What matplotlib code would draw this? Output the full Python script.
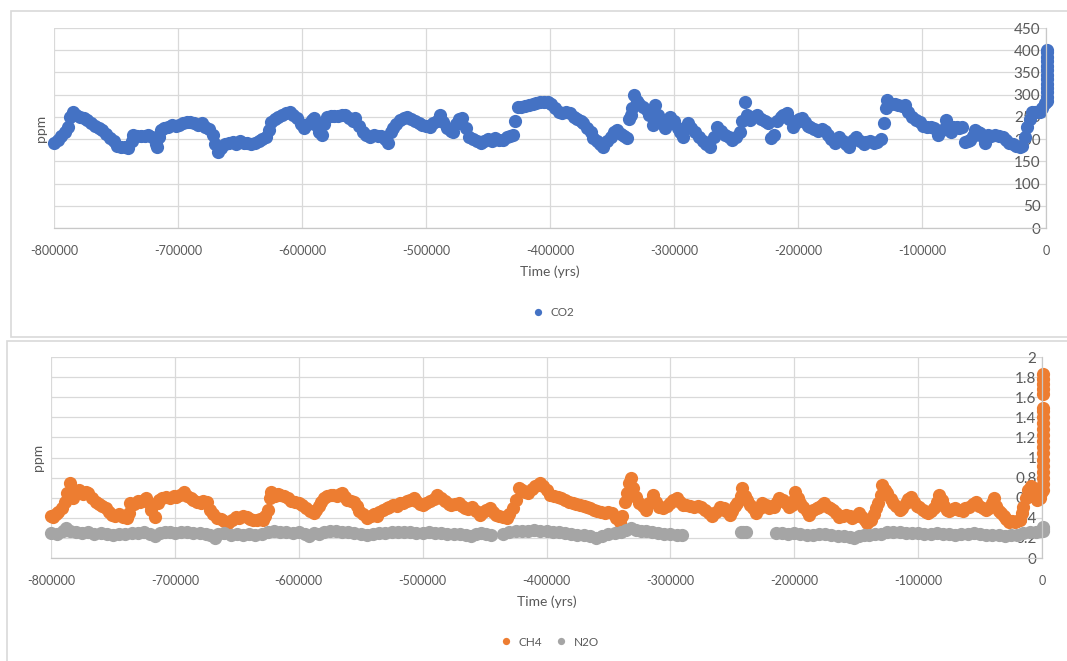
import matplotlib
matplotlib.use("Agg")
import matplotlib.pyplot as plt
from matplotlib.patches import Rectangle
import numpy as np

plt.rcParams['font.family'] = ['Lato', 'DejaVu Sans']

# CO2 (time in kyr, ppm)
co2_t = [-800, -797, -794, -791, -789, -787, -785, -782, -779, -776, -773, -770, -767, -764, -761, -758,
         -755, -752, -749, -746, -743, -740, -737, -736, -733, -730, -727, -724, -721, -718, -717, -715,
         -714, -711, -708, -705, -702, -699, -696, -693, -690, -687, -684, -681, -678, -675, -672, -670,
         -668, -665, -662, -659, -656, -653, -650, -647, -644, -641, -638, -635, -632, -629, -627, -625,
         -622, -619, -616, -613, -610, -607, -604, -601, -598, -595, -592, -590, -588, -586, -584, -582,
         -580, -577, -574, -571, -568, -565, -562, -559, -557, -554, -551, -548, -545, -542, -539, -536,
         -533, -531, -528, -527, -524, -521, -518, -515, -512, -509, -506, -503, -500, -497, -494, -491,
         -489, -486, -483, -480, -478, -476, -473, -471, -468, -465, -462, -459, -456, -453, -450, -447,
         -444, -441, -438, -435, -432, -430, -428, -426, -423, -420, -417, -414, -411, -408, -405, -402,
         -399, -396, -393, -390, -387, -384, -381, -378, -375, -373, -370, -367, -365, -362, -360, -357,
         -354, -351, -348, -346, -343, -340, -338, -336, -335, -334, -332, -330, -328, -325, -322, -320,
         -317, -315, -313, -310, -307, -305, -303, -300, -297, -295, -293, -291, -289, -286, -283, -280,
         -277, -274, -271, -268, -265, -262, -259, -256, -253, -250, -247, -245, -243, -241, -239, -236,
         -233, -230, -227, -224, -222, -219, -217, -214, -212, -209, -207, -204, -201, -199, -197, -194,
         -192, -190, -187, -184, -181, -178, -176, -173, -170, -167, -164, -161, -159, -156, -153, -150,
         -147, -145, -142, -139, -136, -133, -131, -129, -128, -125, -122, -119, -116, -114, -111, -108,
         -105, -102, -99, -96, -93, -90, -87, -84, -81, -79, -77, -75, -72, -70, -68, -65,
         -63, -61, -59, -57, -55, -53, -51, -49, -47, -44, -41, -38, -35, -32, -30, -27,
         -24, -21, -19, -17, -15, -13, -11, -9, -7, -5, -3, -1,
         1, 1, 1, 1, 1, 1, 1, 1, 1, 1, 1, 1, 1]
co2_v = [191, 198, 207, 215, 228, 250, 261, 255, 250, 247, 242, 236, 230, 225, 220, 212,
         203, 195, 185, 183, 182, 180, 195, 209, 207, 206, 208, 209, 205, 190, 183, 205,
         221, 224, 228, 232, 230, 232, 236, 238, 239, 236, 232, 236, 228, 222, 210, 190,
         172, 180, 190, 192, 194, 190, 195, 192, 191, 190, 192, 196, 200, 205, 220, 239,
         245, 250, 255, 258, 261, 255, 248, 235, 225, 235, 242, 247, 230, 215, 209, 235,
         250, 252, 253, 252, 254, 254, 248, 240, 247, 230, 215, 209, 205, 210, 206, 208,
         200, 191, 215, 225, 235, 242, 247, 250, 245, 240, 236, 232, 230, 228, 236, 240,
         254, 238, 225, 218, 216, 235, 245, 247, 225, 205, 200, 195, 191, 196, 200, 195,
         203, 198, 198, 205, 208, 209, 240, 272, 272, 275, 276, 278, 281, 283, 283, 284,
         280, 270, 262, 259, 262, 259, 250, 245, 240, 236, 225, 215, 203, 195, 190, 182,
         195, 205, 215, 221, 212, 208, 203, 245, 255, 270, 299, 285, 278, 272, 265, 255,
         232, 277, 255, 240, 225, 235, 250, 240, 225, 215, 205, 225, 236, 225, 215, 205,
         195, 188, 182, 205, 227, 218, 210, 205, 198, 205, 215, 240, 283, 255, 243, 250,
         254, 245, 240, 236, 203, 210, 240, 250, 255, 259, 245, 227, 238, 245, 247, 238,
         230, 227, 222, 218, 222, 218, 210, 200, 191, 205, 195, 190, 182, 198, 205, 195,
         190, 194, 195, 192, 194, 200, 236, 270, 288, 280, 278, 276, 275, 277, 262, 250,
         244, 239, 230, 228, 227, 225, 209, 220, 243, 230, 216, 228, 227, 225, 227, 194,
         196, 198, 208, 221, 215, 214, 205, 191, 209, 208, 209, 206, 205, 198, 191, 188,
         185, 182, 185, 205, 227, 245, 261, 262, 260, 261, 270, 281,
         285, 295, 305, 315, 325, 335, 345, 355, 365, 375, 385, 395, 400]

# CH4 (time in kyr, ppm)
ch4_t = [-800, -798, -796, -794, -791, -789, -787, -785, -783, -782, -779, -777, -774, -772, -770, -767,
         -764, -761, -759, -756, -753, -751, -748, -745, -742, -739, -737, -736, -733, -730, -728, -725,
         -723, -721, -719, -716, -714, -713, -710, -707, -704, -701, -699, -696, -693, -690, -687, -685,
         -682, -679, -677, -674, -672, -669, -666, -663, -660, -657, -654, -651, -648, -645, -642, -639,
         -637, -634, -631, -629, -627, -625, -623, -622, -619, -617, -615, -612, -609, -606, -603, -600,
         -597, -594, -591, -588, -586, -584, -582, -580, -577, -574, -572, -569, -567, -565, -563, -561,
         -558, -555, -553, -551, -548, -545, -542, -539, -537, -535, -532, -529, -527, -524, -521, -518,
         -516, -513, -510, -507, -505, -502, -500, -497, -494, -491, -488, -485, -482, -479, -477, -474,
         -471, -468, -466, -463, -460, -457, -454, -451, -449, -446, -443, -441, -438, -435, -432, -430,
         -427, -425, -422, -420, -417, -415, -412, -409, -407, -405, -403, -400, -397, -394, -391, -388,
         -385, -382, -379, -376, -373, -370, -367, -365, -362, -359, -356, -353, -350, -347, -344, -341,
         -339, -337, -335, -333, -332, -330, -328, -325, -322, -320, -317, -314, -312, -309, -306, -303,
         -300, -298, -295, -292, -290, -287, -284, -281, -278, -275, -272, -269, -266, -263, -260, -257,
         -255, -252, -250, -248, -246, -243, -242, -240, -238, -236, -233, -231, -228, -226, -223, -220,
         -218, -216, -214, -212, -209, -207, -204, -202, -200, -199, -197, -195, -193, -190, -188, -185,
         -182, -180, -178, -176, -173, -171, -169, -166, -164, -161, -158, -155, -153, -150, -148, -145,
         -143, -141, -138, -136, -134, -132, -130, -129, -127, -125, -122, -120, -118, -115, -113, -110,
         -108, -106, -103, -101, -99, -96, -94, -92, -90, -87, -85, -83, -81, -79, -77, -75,
         -72, -70, -67, -64, -62, -59, -56, -53, -51, -48, -45, -43, -40, -39, -37, -35,
         -33, -31, -29, -27, -24, -22, -20, -18, -16, -15, -13, -11, -9, -7, -5, -4,
         -2, -1,
         1, 1, 1, 1, 1, 1, 1, 1, 1, 1, 1, 1, 1, 1, 1, 1, 1, 1, 1, 1]
ch4_v = [0.42, 0.41, 0.44, 0.46, 0.50, 0.56, 0.65, 0.75, 0.68, 0.60, 0.66, 0.68, 0.64, 0.66, 0.65, 0.60,
         0.56, 0.54, 0.52, 0.50, 0.46, 0.43, 0.42, 0.44, 0.41, 0.40, 0.45, 0.55, 0.54, 0.57, 0.56, 0.58,
         0.60, 0.55, 0.48, 0.41, 0.55, 0.58, 0.60, 0.61, 0.60, 0.62, 0.61, 0.63, 0.66, 0.62, 0.60, 0.58,
         0.56, 0.55, 0.57, 0.56, 0.48, 0.44, 0.40, 0.39, 0.37, 0.35, 0.38, 0.41, 0.40, 0.42, 0.41, 0.39,
         0.38, 0.38, 0.39, 0.38, 0.42, 0.48, 0.60, 0.66, 0.62, 0.64, 0.63, 0.62, 0.60, 0.57, 0.56, 0.55,
         0.53, 0.50, 0.47, 0.45, 0.48, 0.52, 0.56, 0.60, 0.62, 0.63, 0.63, 0.62, 0.64, 0.65, 0.61, 0.58,
         0.57, 0.56, 0.52, 0.47, 0.44, 0.40, 0.42, 0.44, 0.42, 0.46, 0.48, 0.50, 0.51, 0.53, 0.52, 0.55,
         0.55, 0.57, 0.58, 0.60, 0.57, 0.54, 0.53, 0.55, 0.57, 0.59, 0.63, 0.60, 0.57, 0.54, 0.53, 0.54,
         0.55, 0.52, 0.50, 0.49, 0.51, 0.47, 0.43, 0.46, 0.48, 0.50, 0.46, 0.43, 0.42, 0.41, 0.40, 0.44,
         0.50, 0.58, 0.70, 0.68, 0.66, 0.65, 0.69, 0.72, 0.73, 0.75, 0.72, 0.68, 0.63, 0.62, 0.61, 0.60,
         0.58, 0.56, 0.55, 0.54, 0.53, 0.52, 0.51, 0.50, 0.48, 0.47, 0.46, 0.45, 0.46, 0.45, 0.40, 0.36,
         0.42, 0.56, 0.65, 0.75, 0.80, 0.70, 0.61, 0.55, 0.52, 0.48, 0.55, 0.63, 0.56, 0.51, 0.50, 0.52,
         0.55, 0.58, 0.60, 0.56, 0.53, 0.53, 0.52, 0.51, 0.52, 0.51, 0.48, 0.45, 0.42, 0.46, 0.51, 0.50,
         0.47, 0.43, 0.47, 0.52, 0.55, 0.62, 0.70, 0.62, 0.58, 0.53, 0.50, 0.45, 0.50, 0.55, 0.53, 0.50,
         0.52, 0.51, 0.56, 0.60, 0.58, 0.55, 0.51, 0.53, 0.58, 0.66, 0.60, 0.55, 0.51, 0.47, 0.43, 0.48,
         0.50, 0.51, 0.53, 0.55, 0.51, 0.50, 0.48, 0.45, 0.41, 0.42, 0.43, 0.42, 0.40, 0.42, 0.45, 0.41,
         0.38, 0.35, 0.38, 0.44, 0.50, 0.55, 0.63, 0.73, 0.68, 0.65, 0.59, 0.55, 0.52, 0.48, 0.50, 0.55,
         0.59, 0.61, 0.56, 0.52, 0.51, 0.48, 0.46, 0.45, 0.47, 0.50, 0.56, 0.63, 0.58, 0.52, 0.48, 0.47,
         0.49, 0.50, 0.48, 0.47, 0.50, 0.51, 0.54, 0.56, 0.52, 0.50, 0.48, 0.50, 0.55, 0.60, 0.52, 0.47,
         0.45, 0.42, 0.39, 0.36, 0.37, 0.36, 0.37, 0.38, 0.45, 0.51, 0.60, 0.68, 0.72, 0.70, 0.62, 0.58,
         0.60, 0.65,
         0.68, 0.74, 0.80, 0.86, 0.92, 0.98, 1.04, 1.10, 1.16, 1.22, 1.28, 1.34, 1.40, 1.46, 1.49,
         1.63, 1.68, 1.73, 1.78, 1.83]

# N2O (time in kyr, ppm), NaN = gap in the record
n2o_t = [-800, -795, -790, -788, -785, -780, -775, -770, -765, -760, -755, -750, -745, -740, -735, -730,
         -725, -720, -716, -712, -708, -704, -700, -695, -690, -685, -680, -675, -672, -668, -665, -660,
         -655, -650, -645, -640, -635, -630, -625, -620, -615, -610, -605, -600, -595, -592, -588, -584,
         -580, -575, -570, -565, -560, -555, -550, -545, -540, -535, -530, -525, -520, -515, -510, -505,
         -500, -495, -490, -485, -480, -475, -470, -465, -461, -457, -453, -449, -445, -440,
         -435, -430, -425, -420, -415, -410, -405, -400, -395, -390, -385, -380, -375, -370, -365, -360,
         -355, -350, -345, -340, -336, -332, -328, -324, -320, -315, -310, -305, -300, -295, -291, -270,
         -243, -241, -239, -225,
         -215, -210, -205, -200, -195, -190, -185, -180, -175, -170, -165, -160, -155, -152, -148, -144,
         -140, -135, -130, -125, -120, -115, -110, -105, -100, -95, -90, -85, -80, -75, -70, -65,
         -60, -55, -50, -45, -40, -35, -30, -25, -20, -15, -10, -5, -2, 1, 1, 1]
n2o_v = [0.25, 0.24, 0.27, 0.30, 0.27, 0.26, 0.25, 0.26, 0.24, 0.25, 0.24, 0.23, 0.24, 0.24, 0.25, 0.25,
         0.26, 0.24, 0.22, 0.25, 0.26, 0.26, 0.25, 0.26, 0.26, 0.25, 0.25, 0.24, 0.23, 0.20, 0.24, 0.25,
         0.23, 0.24, 0.23, 0.24, 0.23, 0.24, 0.26, 0.27, 0.26, 0.26, 0.25, 0.26, 0.24, 0.22, 0.25, 0.24,
         0.26, 0.27, 0.27, 0.26, 0.26, 0.25, 0.24, 0.23, 0.24, 0.25, 0.25, 0.26, 0.26, 0.26, 0.26, 0.25,
         0.25, 0.26, 0.25, 0.25, 0.24, 0.24, 0.24, 0.23, 0.22, 0.24, 0.25, 0.24, 0.23, np.nan,
         0.24, 0.26, 0.27, 0.27, 0.27, 0.28, 0.27, 0.27, 0.26, 0.26, 0.25, 0.24, 0.23, 0.23, 0.22, 0.20,
         0.22, 0.24, 0.25, 0.26, 0.28, 0.30, 0.28, 0.27, 0.27, 0.26, 0.25, 0.24, 0.24, 0.23, 0.23, np.nan,
         0.26, 0.26, 0.26, np.nan,
         0.25, 0.25, 0.24, 0.25, 0.24, 0.23, 0.23, 0.24, 0.24, 0.23, 0.22, 0.22, 0.21, 0.20, 0.22, 0.23,
         0.23, 0.24, 0.24, 0.26, 0.26, 0.26, 0.25, 0.25, 0.25, 0.24, 0.24, 0.25, 0.24, 0.24, 0.23, 0.24,
         0.24, 0.25, 0.24, 0.23, 0.23, 0.23, 0.22, 0.23, 0.23, 0.25, 0.26, 0.26, 0.27, 0.27, 0.29, 0.31]

x_ticks = [-800000, -700000, -600000, -500000, -400000, -300000, -200000, -100000, 0]
x_labels = [str(v) for v in x_ticks]
co2_ticks = [0, 50, 100, 150, 200, 250, 300, 350, 400, 450]
gas_ticks = [0, 0.2, 0.4, 0.6, 0.8, 1.0, 1.2, 1.4, 1.6, 1.8, 2.0]
gas_labels = ['0', '0.2', '0.4', '0.6', '0.8', '1', '1.2', '1.4', '1.6', '1.8', '2']

BLUE = '#4472C4'
ORANGE = '#ED7D31'
GRAY = '#A5A5A5'
TXT = '#595959'
GRID = '#d9d9d9'
MS = 9.5

W, H = 1067, 661
fig = plt.figure(figsize=(W / 100, H / 100), dpi=100)

# chart frames (behind the axes)
fig.add_artist(Rectangle((11 / W, 1 - 337 / H), 1.1, (337 - 11) / H, transform=fig.transFigure,
                         facecolor='white', edgecolor='#d9d9d9', lw=1.2, zorder=-5))
fig.add_artist(Rectangle((7 / W, 1 - 700 / H), 1.1, (700 - 341) / H, transform=fig.transFigure,
                         facecolor='white', edgecolor='#d9d9d9', lw=1.2, zorder=-5))


def style_axes(ax, yticks, ylabels, ymax):
    ax.set_facecolor('none')
    ax.set_xlim(-800000, 0)
    ax.set_ylim(0, ymax)
    ax.set_xticks(x_ticks)
    ax.set_xticklabels(x_labels)
    ax.set_yticks(yticks)
    ax.set_yticklabels(ylabels)
    ax.grid(True, color=GRID, lw=0.9)
    ax.set_axisbelow(True)
    for s in ['top', 'left']:
        ax.spines[s].set_visible(False)
    for s in ['bottom', 'right']:
        ax.spines[s].set_color('#c8c8c8')
        ax.spines[s].set_linewidth(0.9)
    ax.tick_params(axis='x', length=0, pad=12, labelsize=9, labelcolor=TXT)
    ax.yaxis.tick_right()
    ax.tick_params(axis='y', length=0, pad=-4, labelsize=11, labelcolor=TXT)
    for t in ax.yaxis.get_major_ticks():
        t.label2.set_horizontalalignment('right')
    ax.set_ylabel('ppm', color=TXT, fontsize=10, labelpad=5)
    ax.yaxis.set_label_position('left')
    ax.set_xlabel('Time (yrs)', color=TXT, fontsize=10, labelpad=6)


# top chart: CO2
ax1 = fig.add_axes([54 / W, 1 - 228 / H, (1046 - 54) / W, 200 / H])
ax1.plot(np.array(co2_t) * 1000, co2_v, 'o', color=BLUE, ms=MS, mew=0, clip_on=False, label='CO2')
style_axes(ax1, co2_ticks, [str(v) for v in co2_ticks], 450)
ax1.legend(loc='center', bbox_to_anchor=(0.5, -0.425), frameon=False, fontsize=8.5,
           handletextpad=0.1, markerscale=0.55, labelcolor=TXT)

# bottom chart: CH4 and N2O
ax2 = fig.add_axes([51 / W, 1 - 558 / H, (1042 - 51) / W, 201 / H])
ax2.plot(np.array(ch4_t) * 1000, ch4_v, 'o', color=ORANGE, ms=MS, mew=0, clip_on=False, label='CH4')
ax2.plot(np.array(n2o_t) * 1000, n2o_v, 'o', color=GRAY, ms=MS, mew=0, clip_on=False, label='N2O')
style_axes(ax2, gas_ticks, gas_labels, 2)
ax2.legend(loc='center', bbox_to_anchor=(0.5, -0.418), frameon=False, fontsize=8.5, ncol=2,
           handletextpad=0.1, columnspacing=0.6, markerscale=0.55, labelcolor=TXT)

fig.savefig('out.png', dpi=100)
